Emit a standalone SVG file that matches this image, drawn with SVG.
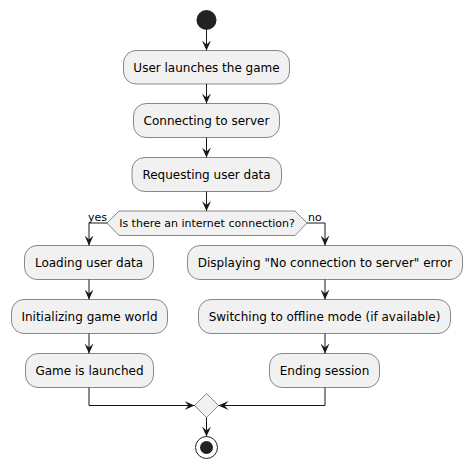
<svg xmlns="http://www.w3.org/2000/svg" width="472" height="469" viewBox="0 0 472 469">
<defs>
<marker id="ah" viewBox="0 0 10 9" refX="10" refY="4.5" markerWidth="10" markerHeight="9" markerUnits="userSpaceOnUse" orient="auto">
<path d="M0,0 L10,4.5 L0,9 L4,4.5 Z" fill="#181818"/>
</marker>
</defs>
<style>
.box{fill:#F1F1F1;stroke:#181818;stroke-width:0.5}
.t{font-family:"DejaVu Sans",sans-serif;font-size:12px;fill:#000;text-anchor:middle}
.s{font-family:"DejaVu Sans",sans-serif;font-size:11px;fill:#000}
.c{fill:none;stroke:#181818;stroke-width:1}
</style>
<rect width="472" height="469" fill="#FFFFFF"/>
<g id="start"><circle cx="206.5" cy="20" r="10" fill="#222222"/></g>
<g id="n1"><rect class="box" x="123.5" y="50.5" width="166" height="33.5" rx="12.5"/><text class="t" x="206.5" y="71.5">User launches the game</text></g>
<g id="n2"><rect class="box" x="133.5" y="103.5" width="146" height="34" rx="12.5"/><text class="t" x="206.5" y="125">Connecting to server</text></g>
<g id="n3"><rect class="box" x="132" y="157.5" width="149.5" height="34" rx="12.5"/><text class="t" x="206.5" y="179">Requesting user data</text></g>
<g id="d1"><polygon class="box" points="107,223 119,211 295,211 307,223 295,235.5 119,235.5"/><text class="s" x="207" y="227" text-anchor="middle">Is there an internet connection?</text></g>
<g id="n4"><rect class="box" x="24.5" y="245.5" width="129" height="34" rx="12.5"/><text class="t" x="89" y="267">Loading user data</text></g>
<g id="n5"><rect class="box" x="11.5" y="299.5" width="156" height="34" rx="12.5"/><text class="t" x="89.5" y="321">Initializing game world</text></g>
<g id="n6"><rect class="box" x="25.5" y="353.5" width="128" height="34" rx="12.5"/><text class="t" x="89.5" y="375">Game is launched</text></g>
<g id="n7"><rect class="box" x="187.5" y="245.5" width="275" height="34" rx="12.5"/><text class="t" x="325" y="267">Displaying "No connection to server" error</text></g>
<g id="n8"><rect class="box" x="198.5" y="299.5" width="252" height="34" rx="12.5"/><text class="t" x="324.5" y="321">Switching to offline mode (if available)</text></g>
<g id="n9"><rect class="box" x="269.5" y="353.5" width="110" height="34" rx="12.5"/><text class="t" x="324.5" y="375">Ending session</text></g>
<g id="d2"><polygon class="box" points="194.5,405.5 206.5,393.5 218.5,405.5 206.5,417.5"/></g>
<g id="end"><circle cx="206.5" cy="447.5" r="11" fill="none" stroke="#222222" stroke-width="1"/><circle cx="206.5" cy="447.5" r="6.5" fill="#222222"/></g>
<g id="connectors">
<path class="c" marker-end="url(#ah)" d="M206.5,30 V50.5"/>
<path class="c" marker-end="url(#ah)" d="M206.5,84 V103.5"/>
<path class="c" marker-end="url(#ah)" d="M206.5,137.5 V157.5"/>
<path class="c" marker-end="url(#ah)" d="M206.5,191.5 V211"/>
<path class="c" marker-end="url(#ah)" d="M107,223 H89 V245.5"/>
<path class="c" marker-end="url(#ah)" d="M307,223 H325 V245.5"/>
<path class="c" marker-end="url(#ah)" d="M89,279.5 V299.5"/>
<path class="c" marker-end="url(#ah)" d="M325,279.5 V299.5"/>
<path class="c" marker-end="url(#ah)" d="M89,333.5 V353.5"/>
<path class="c" marker-end="url(#ah)" d="M325,333.5 V353.5"/>
<path class="c" marker-end="url(#ah)" d="M89,387.5 V405.5 H194.5"/>
<path class="c" marker-end="url(#ah)" d="M325,387.5 V405.5 H218.5"/>
<path class="c" marker-end="url(#ah)" d="M206.5,417.5 V436.5"/>
<text class="s" x="88" y="221">yes</text>
<text class="s" x="308" y="221">no</text>
</g>
</svg>
